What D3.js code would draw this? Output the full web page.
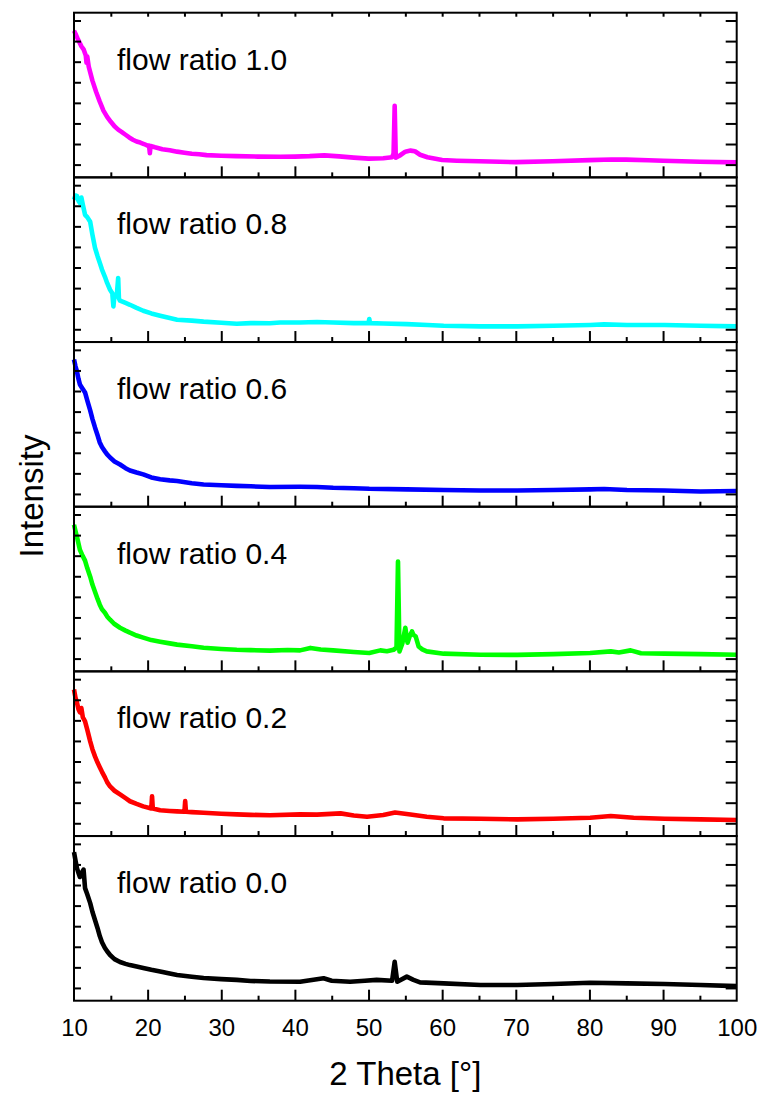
<!DOCTYPE html>
<html>
<head>
<meta charset="utf-8">
<script src="https://cdn.jsdelivr.net/npm/d3@7"></script>
<style>
  html, body { margin: 0; padding: 0; background: #fff; }
  svg { display: block; }
  text { font-family: "Liberation Sans", Arial, Helvetica, sans-serif; fill: #000; }
</style>
</head>
<body>
<svg id="chart" width="760" height="1095"></svg>
<script>
// XRD patterns, intensity in arbitrary units, [2θ, I] pairs
const ratio10 = [[10.0,650],[10.3,628],[10.5,612],[10.8,590],[11.0,575],[11.3,560],[11.6,530],[11.7,495],[11.8,525],[12.0,476],[12.5,408],[13.0,354],[13.5,306],[14.0,262],[14.5,232],[15.0,208],[15.5,186],[16.0,170],[16.5,158],[17.0,145],[17.5,132],[18.0,121],[18.5,112],[19.0,107],[19.5,100],[20.0,92],[20.2,92],[20.3,55],[20.4,90],[21,84],[22,75],[23,70],[24,63],[25,58],[26,53],[27,50],[28,46],[30,43],[32,41],[35,39],[38,38],[40,39],[42,41],[44,45],[46,40],[48,34],[50,29],[52,31],[53.2,36],[53.4,53],[53.55,286],[53.7,34],[54.2,43],[55.0,63],[55.7,68],[56.3,65],[57.0,48],[58,36],[60,22],[62,19],[65,16],[70,12],[75,16],[80,22],[83,25],[85,24],[88,21],[90,19],[95,14],[100,11]];

const ratio08 = [[10.0,629],[10.2,650],[10.4,648],[10.6,625],[10.8,614],[11.0,640],[11.2,605],[11.5,556],[11.8,545],[12.2,522],[12.5,460],[12.85,396],[13.2,355],[13.5,323],[13.8,290],[14.2,255],[14.5,225],[14.9,192],[15.2,175],[15.35,111],[15.5,168],[15.8,160],[16.0,249],[16.1,150],[16.25,139],[17.0,128],[17.6,119],[18.5,104],[19.4,90],[20.5,77],[21.7,66],[23,55],[24,46],[26,42],[27.6,37],[30,32],[32.1,27],[34,30],[36.6,29],[38,33],[40.7,33],[43,35],[45.2,33],[48,30],[50.0,30],[50.1,50],[50.2,30],[52,28],[55.2,25],[58,21],[60.2,17],[65.2,14],[70.2,14],[75.1,17],[80.1,21],[82,24],[85.1,21],[90.2,21],[95.1,17],[100,14]];

const ratio06 = [[10.0,653],[10.2,620],[10.4,595],[10.6,560],[10.8,532],[11.1,515],[11.5,493],[11.8,455],[12.2,406],[12.5,365],[12.85,323],[13.2,285],[13.5,250],[13.8,228],[14.2,207],[14.5,192],[14.9,177],[15.5,158],[16.25,143],[17.0,125],[17.6,114],[18.5,104],[19.4,95],[20.5,80],[21.7,71],[23,66],[24,63],[26,52],[27.6,46],[30,42],[32.1,39],[34,37],[36.6,34],[40.7,35],[43,34],[45.2,30],[48,28],[50.1,25],[55.2,22],[60.2,19],[65.2,17],[70.2,17],[75.1,19],[80.1,22],[82,24],[85.1,19],[90.2,17],[95.1,12],[100,14]];

const ratio04 = [[10.0,650],[10.2,620],[10.4,592],[10.6,560],[10.8,529],[11.1,505],[11.5,476],[11.8,440],[12.2,398],[12.5,360],[12.85,325],[13.2,290],[13.5,262],[13.8,240],[14.2,223],[14.5,205],[14.9,189],[15.5,168],[16.25,150],[17.0,136],[17.6,126],[18.5,112],[19.4,102],[20.5,90],[21.7,82],[23,74],[24,68],[26,60],[27.6,53],[30,47],[32.1,43],[34,41],[36.6,39],[39,42],[40.7,40],[42.1,52],[43.5,44],[45.2,40],[48,32],[50.1,27],[51.6,40],[52.5,36],[53.4,43],[53.8,53],[54.0,472],[54.2,35],[54.6,75],[55.0,150],[55.3,77],[55.6,110],[55.9,132],[56.1,115],[56.4,108],[56.8,59],[57.3,45],[57.9,35],[60.2,24],[65.2,19],[70.2,18],[75.1,22],[80.1,27],[82.9,35],[84,30],[85.6,40],[87,26],[90.2,24],[95.1,22],[100,19]];

const ratio02 = [[10.0,650],[10.2,610],[10.4,587],[10.6,555],[10.8,539],[11.0,560],[11.2,515],[11.5,495],[11.8,455],[12.2,398],[12.5,360],[12.85,325],[13.2,295],[13.5,272],[13.8,250],[14.2,223],[14.5,200],[14.9,179],[15.5,158],[16.25,140],[17.0,122],[17.6,107],[18.5,94],[19.4,82],[20.5,72],[20.6,131],[20.7,72],[21.7,63],[23,60],[24,58],[25.0,56],[25.1,108],[25.2,56],[26,54],[27.6,51],[30,46],[32.1,43],[34,41],[36.6,39],[40.7,43],[43,42],[46.2,48],[48,38],[49.8,32],[52,40],[53.6,52],[55.7,43],[57.9,32],[60.2,24],[65.2,22],[70.2,19],[75.1,22],[80.1,27],[82.9,35],[86,27],[90.2,22],[95.1,19],[100,16]];

const ratio00 = [[10.0,660],[10.2,620],[10.4,582],[10.6,560],[10.8,539],[11.0,555],[11.3,575],[11.5,485],[11.8,455],[12.2,412],[12.5,370],[12.85,330],[13.2,290],[13.5,252],[13.8,222],[14.2,194],[14.5,178],[14.9,160],[15.5,140],[16.25,126],[17.0,117],[17.6,111],[18.5,104],[19.4,97],[20.5,88],[21.7,80],[23,70],[24,63],[26,54],[27.6,48],[30,43],[32.1,39],[34,34],[36.6,31],[40.7,30],[43.9,47],[45,35],[47.5,30],[49.5,35],[51.1,39],[53.2,35],[53.55,127],[53.9,30],[55.2,55],[56.1,39],[57,27],[60.2,22],[65.2,14],[70.2,14],[75.1,19],[80.1,25],[85.1,22],[90.2,19],[95.1,14],[100,9]];

const panelLabels = ["flow ratio 1.0", "flow ratio 0.8", "flow ratio 0.6", "flow ratio 0.4", "flow ratio 0.2", "flow ratio 0.0"];
const panelSeries = [ratio10, ratio08, ratio06, ratio04, ratio02, ratio00];
const panelColors = ["#ff00ff", "#00ffff", "#0000ff", "#00ff00", "#ff0000", "#000000"];

const xTickLabels = [10, 20, 30, 40, 50, 60, 70, 80, 90, 100];
const xMajorTicks = [20, 30, 40, 50, 60, 70, 80, 90];
const xMinorTicks = [15, 25, 35, 45, 55, 65, 75, 85, 95];
const xTopTicks = [15, 20, 25, 30, 35, 40, 45, 50, 55, 60, 65, 70, 75, 80, 85, 90, 95];
const yTicks = [0, 100, 200, 300, 400, 500, 600, 700];

const xTitle = "2 Theta [°]";
const yTitle = "Intensity";

// layout
const plotLeft = 74, plotRight = 736.7, plotTop = 12.7, plotBottom = 1000.7;
const nPanels = panelSeries.length;
const panelH = (plotBottom - plotTop) / nPanels;

const svg = d3.select("#chart");

const x = d3.scaleLinear().domain([10, 100]).range([plotLeft, plotRight]);

function styleAxis(g) {
  g.select(".domain").remove();
  g.selectAll(".tick line").attr("stroke", "#000").attr("stroke-width", 2);
  g.selectAll(".tick text").remove();
}

panelSeries.forEach((series, i) => {
  const pTop = plotTop + i * panelH;
  const pBottom = pTop + panelH;
  const y = d3.scaleLinear().domain([-62, 738]).range([pBottom, pTop]);

  const g = svg.append("g");

  const line = d3.line()
    .x(d => x(d[0]))
    .y(d => y(d[1]));

  // measured pattern, drawn as a heavy trace
  g.append("path")
    .datum(series)
    .attr("fill", "none")
    .attr("stroke", panelColors[i])
    .attr("stroke-width", 4.6)
    .attr("stroke-linejoin", "round")
    .attr("d", line);

  // panel frame
  g.append("rect")
    .attr("x", plotLeft).attr("y", pTop)
    .attr("width", plotRight - plotLeft).attr("height", panelH)
    .attr("fill", "none").attr("stroke", "#000").attr("stroke-width", 2);

  // inward ticks
  g.append("g").attr("transform", `translate(0,${pBottom})`)
    .call(d3.axisBottom(x).tickValues(xMajorTicks).tickSize(-11)).call(styleAxis);
  g.append("g").attr("transform", `translate(0,${pBottom})`)
    .call(d3.axisBottom(x).tickValues(xMinorTicks).tickSize(-5)).call(styleAxis);
  g.append("g").attr("transform", `translate(${plotLeft},0)`)
    .call(d3.axisLeft(y).tickValues(yTicks).tickSize(-7)).call(styleAxis);
  g.append("g").attr("transform", `translate(${plotRight},0)`)
    .call(d3.axisRight(y).tickValues(yTicks).tickSize(-11)).call(styleAxis);
  if (i === 0) {
    g.append("g").attr("transform", `translate(0,${pTop})`)
      .call(d3.axisTop(x).tickValues(xTopTicks).tickSize(-4)).call(styleAxis);
  }

  g.append("text")
    .attr("x", 117).attr("y", pTop + 57)
    .attr("font-size", 30)
    .text(panelLabels[i]);
});

// x tick labels under the bottom panel
const xLab = svg.append("g").attr("transform", `translate(0,${plotBottom})`)
  .call(d3.axisBottom(x).tickValues(xTickLabels).tickSize(0).tickPadding(18));
xLab.select(".domain").remove();
xLab.selectAll(".tick text")
  .attr("font-family", "Liberation Sans, Arial, sans-serif")
  .attr("font-size", 24).attr("fill", "#000");

svg.append("text")
  .attr("x", (plotLeft + plotRight) / 2).attr("y", 1085)
  .attr("text-anchor", "middle")
  .attr("font-size", 33)
  .text(xTitle);

svg.append("text")
  .attr("transform", "translate(43,496) rotate(-90)")
  .attr("text-anchor", "middle")
  .attr("font-size", 33)
  .text(yTitle);
</script>
</body>
</html>
